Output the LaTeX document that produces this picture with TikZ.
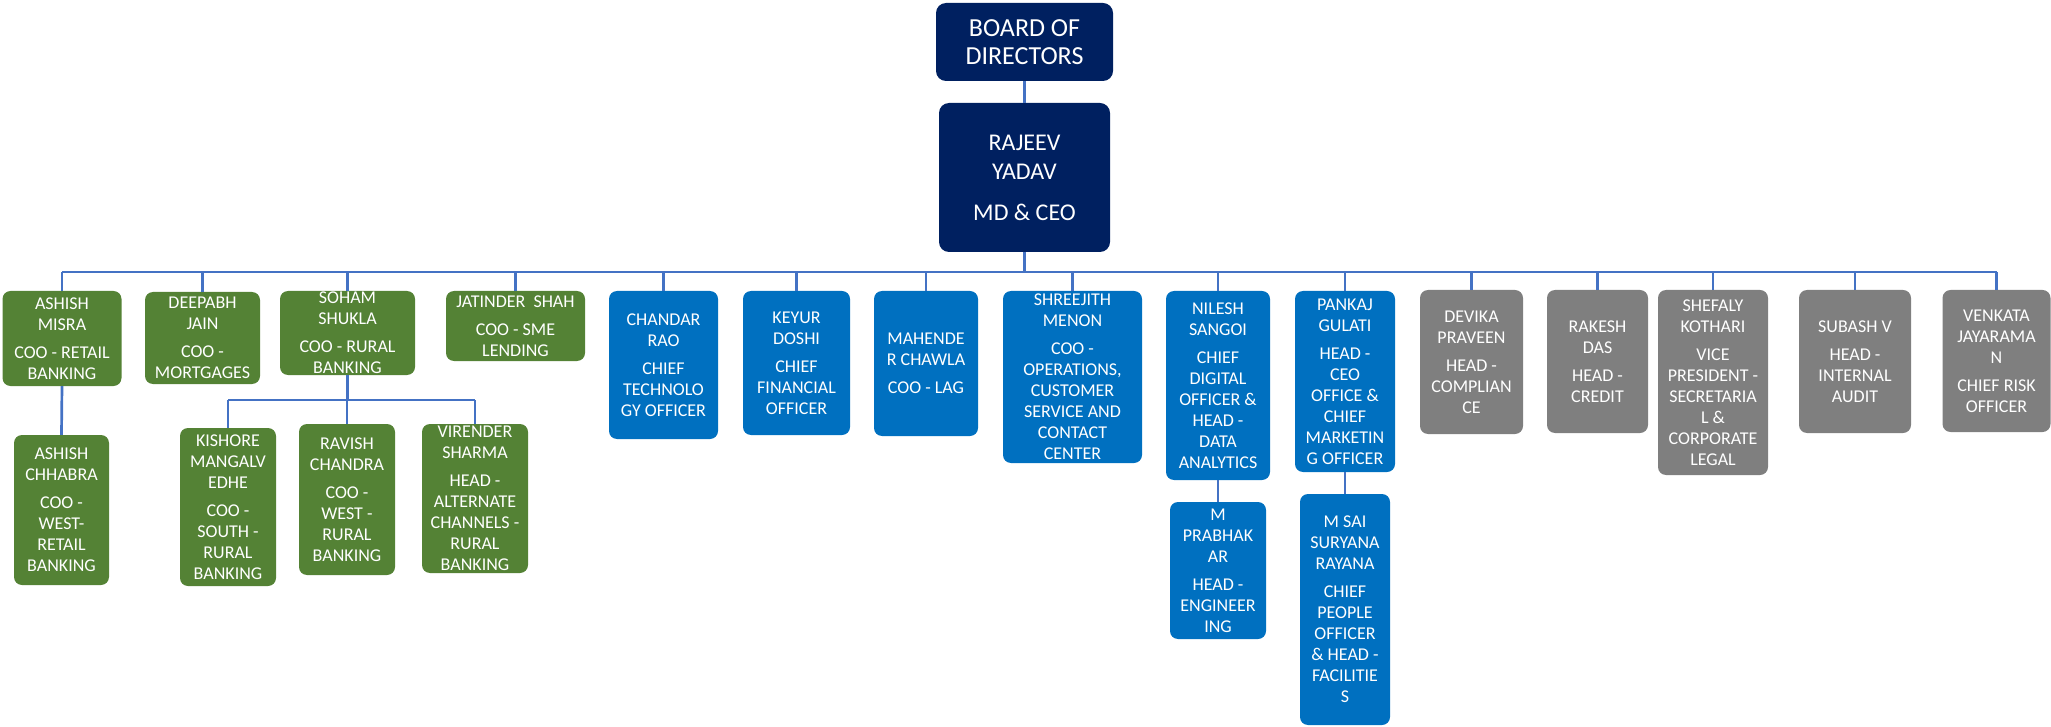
\documentclass[tikz,border=0pt]{standalone}
\usepackage{fontspec}
\setmainfont{Carlito}
\definecolor{navy}{HTML}{002060}
\definecolor{grn}{HTML}{548235}
\definecolor{blu}{HTML}{0070C0}
\definecolor{gry}{HTML}{7F7F7F}
\definecolor{lin}{HTML}{4472C4}
\tikzset{
  box/.style={rounded corners=8pt, text=white, align=center, inner sep=0pt,
    font=\fontsize{18}{21}\selectfont},
  gbox/.style={box, fill=grn},
  bbox/.style={box, fill=blu},
  ybox/.style={box, fill=gry},
  nbox/.style={box, fill=navy, rounded corners=10pt},
  conn/.style={draw=lin, line width=2.7pt},
}
\newcommand{\bx}[7]{\node[#1, minimum width=#4pt, minimum height=#5pt] (#2) at (#3) {#6};}
\begin{document}
\begin{tikzpicture}[x=1pt,y=-1pt]
\useasboundingbox (0,0) rectangle (2051,727);
% top
\node[nbox, minimum width=177pt, minimum height=78pt, font=\fontsize{26}{28}\selectfont] (bod) at (1024.5,42) {BOARD OF\\DIRECTORS};
\node[nbox, minimum width=171pt, minimum height=149pt, font=\fontsize{24}{29}\selectfont] (ceo) at (1024.5,177.5) {RAJEEV\\YADAV\\[12pt]MD \& CEO};
% green
\node[gbox, minimum width=119pt, minimum height=95pt] (am) at (62,338.5) {ASHISH\\MISRA\\[7pt]COO - RETAIL\\BANKING};
\node[gbox, minimum width=115pt, minimum height=92pt] (dj) at (202.5,338) {DEEPABH\\JAIN\\[7pt]COO -\\MORTGAGES};
\node[gbox, minimum width=135pt, minimum height=84pt] (ss) at (347.5,333) {SOHAM\\SHUKLA\\[7pt]COO - RURAL\\BANKING};
\node[gbox, minimum width=139pt, minimum height=70pt] (js) at (515.5,326) {JATINDER\ \ SHAH\\[7pt]COO - SME\\LENDING};
\node[gbox, minimum width=95pt, minimum height=150pt] (ac) at (61.5,510) {ASHISH\\CHHABRA\\[7pt]COO -\\WEST-\\RETAIL\\BANKING};
\node[gbox, minimum width=96pt, minimum height=158pt] (km) at (228,507) {KISHORE\\MANGALV\\EDHE\\[7pt]COO -\\SOUTH -\\RURAL\\BANKING};
\node[gbox, minimum width=96pt, minimum height=151pt] (rc) at (347,499.5) {RAVISH\\CHANDRA\\[7pt]COO -\\WEST -\\RURAL\\BANKING};
\node[gbox, minimum width=106pt, minimum height=149pt] (vs) at (475,498.5) {VIRENDER\\SHARMA\\[7pt]HEAD -\\ALTERNATE\\CHANNELS -\\RURAL\\BANKING};
% blue
\node[bbox, minimum width=109pt, minimum height=148pt] (cr) at (663.5,365) {CHANDAR\\RAO\\[7pt]CHIEF\\TECHNOLO\\GY OFFICER};
\node[bbox, minimum width=107pt, minimum height=144pt] (kd) at (796.5,363) {KEYUR\\DOSHI\\[7pt]CHIEF\\FINANCIAL\\OFFICER};
\node[bbox, minimum width=104pt, minimum height=145pt] (mc) at (926,363.5) {MAHENDE\\R CHAWLA\\[7pt]COO - LAG};
\node[bbox, minimum width=139pt, minimum height=172pt] (sm) at (1072.5,377) {SHREEJITH\\MENON\\[7pt]COO -\\OPERATIONS,\\CUSTOMER\\SERVICE AND\\CONTACT\\CENTER};
\node[bbox, minimum width=104pt, minimum height=189pt] (ns) at (1218,385.5) {NILESH\\SANGOI\\[7pt]CHIEF\\DIGITAL\\OFFICER \&\\HEAD -\\DATA\\ANALYTICS};
\node[bbox, minimum width=100pt, minimum height=181pt] (pg) at (1345,381.5) {PANKAJ\\GULATI\\[7pt]HEAD -\\CEO\\OFFICE \&\\CHIEF\\MARKETIN\\G OFFICER};
\node[bbox, minimum width=96pt, minimum height=137pt] (mp) at (1218,570.5) {M\\PRABHAK\\AR\\[7pt]HEAD -\\ENGINEER\\ING};
\node[bbox, minimum width=90pt, minimum height=231pt] (ms) at (1345,609.5) {M SAI\\SURYANA\\RAYANA\\[7pt]CHIEF\\PEOPLE\\OFFICER\\\& HEAD -\\FACILITIE\\S};
% grey
\node[ybox, minimum width=103pt, minimum height=144pt] (dp) at (1471.5,362) {DEVIKA\\PRAVEEN\\[7pt]HEAD -\\COMPLIAN\\CE};
\node[ybox, minimum width=101pt, minimum height=143pt] (rd) at (1597.5,361.5) {RAKESH\\DAS\\[7pt]HEAD -\\CREDIT};
\node[ybox, minimum width=110pt, minimum height=185pt] (sk) at (1713,382.5) {SHEFALY\\KOTHARI\\[7pt]VICE\\PRESIDENT -\\SECRETARIA\\L \&\\CORPORATE\\LEGAL};
\node[ybox, minimum width=112pt, minimum height=143pt] (sv) at (1855,361.5) {SUBASH V\\[7pt]HEAD -\\INTERNAL\\AUDIT};
\node[ybox, minimum width=108pt, minimum height=142pt] (vj) at (1996.5,361) {VENKATA\\JAYARAMA\\N\\[7pt]CHIEF RISK\\OFFICER};
% connectors
\coordinate (bus) at (0,272);
\coordinate (sub) at (0,400);
\draw[conn] (bod.south) -- (ceo.north);
\draw[conn] (ceo.south) -- (ceo.south |- bus);
\draw[conn] (am.north |- bus) -- (vj.north |- bus);
\foreach \n in {am,dj,ss,js,cr,kd,mc,sm,ns,pg,dp,rd,sk,sv,vj}{
  \draw[conn] (\n.north) -- (\n.north |- bus);
}
\draw[conn] (am.south) -- (ac.north);
\draw[conn] (ss.south) -- (ss.south |- sub);
\draw[conn] (km.north |- sub) -- (vs.north |- sub);
\foreach \n in {km,rc,vs}{
  \draw[conn] (\n.north) -- (\n.north |- sub);
}
\draw[conn] (ns.south) -- (mp.north);
\draw[conn] (pg.south) -- (ms.north);
\end{tikzpicture}
\end{document}
